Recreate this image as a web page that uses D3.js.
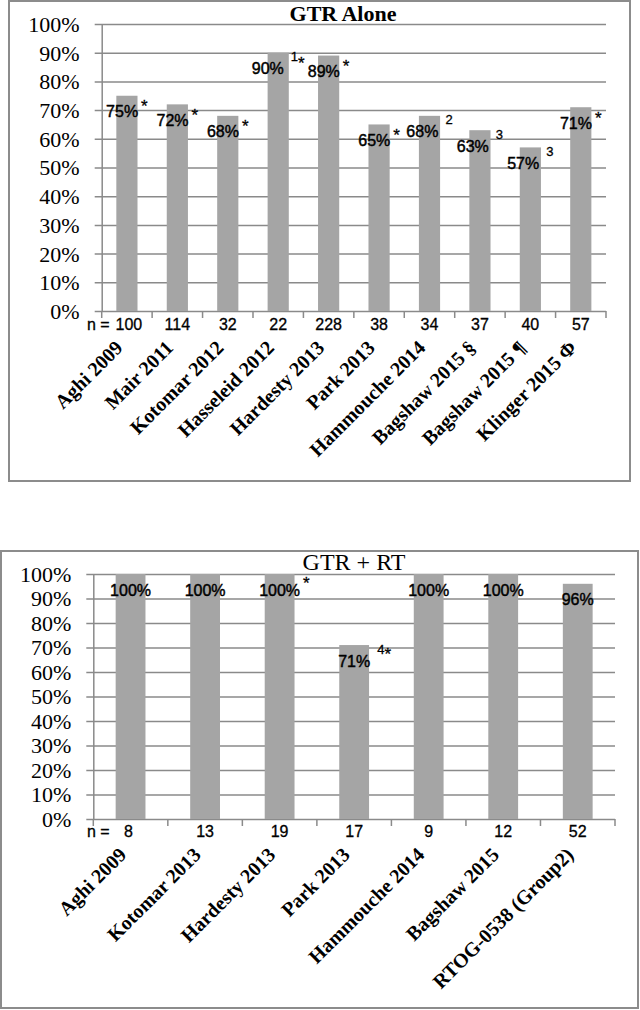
<!DOCTYPE html>
<html>
<head>
<meta charset="utf-8">
<script src="https://cdn.jsdelivr.net/npm/d3@7"></script>
<style>
  body { margin: 0; background: #fff; }
  svg { display: block; }
</style>
</head>
<body>
<svg id="chart" width="640" height="1010"></svg>
<script>
// GTR alone
var aloneStudies = ["Aghi 2009", "Mair 2011", "Kotomar 2012", "Hasseleid 2012", "Hardesty 2013",
  "Park 2013", "Hammouche 2014", "Bagshaw 2015 §", "Bagshaw 2015 ¶", "Klinger 2015 Φ"];
var aloneRates = [0.75, 0.72, 0.68, 0.90, 0.89, 0.65, 0.68, 0.63, 0.57, 0.71];
var aloneN = [100, 114, 32, 22, 228, 38, 34, 37, 40, 57];
var aloneNotes = ["*", "*", "*", "1*", "*", "*", "2", "3", "3", "*"];

// GTR + RT
var rtStudies = ["Aghi 2009", "Kotomar 2013", "Hardesty 2013", "Park 2013", "Hammouche 2014",
  "Bagshaw 2015", "RTOG-0538 (Group2)"];
var rtRates = [1.00, 1.00, 1.00, 0.71, 1.00, 1.00, 0.96];
var rtN = [8, 13, 19, 17, 9, 12, 52];
var rtNotes = ["", "", "*", "4*", "", "", ""];

var yTicks = [0, 0.1, 0.2, 0.3, 0.4, 0.5, 0.6, 0.7, 0.8, 0.9, 1.0];

var grid = "#8a8a8a";
var barColor = "#a5a5a5";
var sans = "'Liberation Sans', Arial, sans-serif";
var serif = "'Liberation Serif', 'Times New Roman', serif";

var svg = d3.select("#chart");

function drawChart(cfg) {
  var g = svg.append("g");

  g.append("rect")
    .attr("x", cfg.frame[0]).attr("y", cfg.frame[1])
    .attr("width", cfg.frame[2]).attr("height", cfg.frame[3])
    .attr("fill", "#fff")
    .attr("stroke", "#8c8c8c")
    .attr("stroke-width", 2);

  var x = d3.scaleBand()
    .domain(cfg.studies)
    .range([cfg.left, cfg.right])
    .paddingInner(cfg.pad)
    .paddingOuter(cfg.pad / 2);

  var y = d3.scaleLinear()
    .domain([0, 1])
    .range([cfg.bottom, cfg.top]);

  // gridlines + y labels
  var yAxis = g.append("g")
    .attr("transform", "translate(" + cfg.left + ",0)")
    .call(d3.axisLeft(y).tickValues(yTicks).tickFormat(d3.format(".0%")).tickSize(0));
  yAxis.select(".domain").attr("stroke", grid).attr("stroke-width", 1.5);
  yAxis.selectAll(".tick line")
    .attr("x1", -7).attr("x2", cfg.right - cfg.left)
    .attr("stroke", grid).attr("stroke-width", 1.5);
  yAxis.selectAll(".tick text")
    .attr("x", -22)
    .attr("dy", "0.34em")
    .style("font-family", serif)
    .style("font-size", "22px")
    .attr("fill", "#000");

  // x axis ticks at category boundaries
  var step = x.step();
  g.selectAll(".xtick")
    .data(d3.range(cfg.studies.length + 1))
    .enter().append("line")
    .attr("x1", function(i) { return cfg.left + i * step; })
    .attr("x2", function(i) { return cfg.left + i * step; })
    .attr("y1", cfg.bottom)
    .attr("y2", cfg.bottom + 7)
    .attr("stroke", grid).attr("stroke-width", 1.5);

  // bars
  g.selectAll(".bar")
    .data(cfg.rates)
    .enter().append("rect")
    .attr("x", function(d, i) { return x(cfg.studies[i]); })
    .attr("y", function(d) { return y(d); })
    .attr("width", x.bandwidth())
    .attr("height", function(d) { return y(0) - y(d); })
    .attr("fill", barColor);

  // value labels, with superscript notes after them
  cfg.rates.forEach(function(d, i) {
    var cx = x(cfg.studies[i]) + x.bandwidth() / 2;
    var base = y(d) + 21.5;
    var note = cfg.notes[i];

    var lab = g.append("text")
      .attr("x", cx)
      .attr("y", base)
      .attr("text-anchor", "middle")
      .style("font-family", sans)
      .style("font-size", "16px")
      .attr("fill", "#000")
      .attr("stroke", "#000").attr("stroke-width", 0.45)
      .text(d3.format(".0%")(d));
    if (!note) return;

    var w = lab.node().getComputedTextLength();
    var gap = note[0] === "*" ? 3 : 7;
    var t = g.append("text")
      .attr("y", base)
      .style("font-family", sans)
      .attr("fill", "#000")
      .attr("stroke", "#000").attr("stroke-width", 0.3);
    note.split("").forEach(function(ch) {
      var isStar = ch === "*";
      t.append("tspan")
        .attr("y", base - (isStar ? cfg.starLift : 13))
        .style("font-size", isStar ? "17px" : "13px")
        .text(ch);
    });
    var nw = t.node().getComputedTextLength();
    var shift = cfg.centerWhole ? (gap + nw) / 2 : 0;
    lab.attr("x", cx - shift);
    t.attr("x", cx - shift + w / 2 + gap);
  });

  // n row
  g.append("text")
    .attr("x", 87)
    .attr("y", cfg.nY)
    .style("font-family", sans)
    .style("font-size", "16px")
    .attr("stroke", "#000").attr("stroke-width", 0.3)
    .text(cfg.nPrefix);

  g.selectAll(".n")
    .data(cfg.n)
    .enter().append("text")
    .attr("x", function(d, i) { return x(cfg.studies[i]) + x.bandwidth() / 2 + (i === 0 ? cfg.firstNShift : 0); })
    .attr("y", cfg.nY)
    .attr("text-anchor", "middle")
    .style("font-family", sans)
    .style("font-size", "16px")
    .attr("stroke", "#000").attr("stroke-width", 0.3)
    .text(function(d) { return d; });

  // category labels
  g.selectAll(".cat")
    .data(cfg.studies)
    .enter().append("text")
    .attr("transform", function(d) {
      return "translate(" + (x(d) + x.bandwidth() / 2 - 3) + "," + (cfg.nY + 19) + ") rotate(-45)";
    })
    .attr("text-anchor", "end")
    .style("font-family", serif)
    .style("font-weight", "bold")
    .style("font-size", "20px")
    .text(function(d) { return d; });

  // title
  g.append("text")
    .attr("x", cfg.titleX)
    .attr("y", cfg.titleY)
    .attr("text-anchor", "middle")
    .style("font-family", serif)
    .style("font-weight", cfg.titleWeight)
    .style("font-size", cfg.titleSize + "px")
    .text(cfg.title);
}

drawChart({
  studies: aloneStudies, rates: aloneRates, n: aloneN, notes: aloneNotes,
  frame: [9, 1, 621, 480],
  left: 101.7, right: 606, top: 24, bottom: 311, pad: 0.58,
  title: "GTR Alone", titleX: 343, titleY: 21, titleSize: 22, titleWeight: "bold",
  nY: 330, nPrefix: "n =", firstNShift: 2, starLift: 5, centerWhole: true
});

drawChart({
  studies: rtStudies, rates: rtRates, n: rtN, notes: rtNotes,
  frame: [1, 551, 637, 457],
  left: 93.3, right: 615, top: 574, bottom: 819, pad: 0.6,
  title: "GTR + RT", titleX: 354, titleY: 570, titleSize: 24, titleWeight: "normal",
  nY: 837, nPrefix: "n =", firstNShift: -2, starLift: 7, centerWhole: false
});
</script>
</body>
</html>
